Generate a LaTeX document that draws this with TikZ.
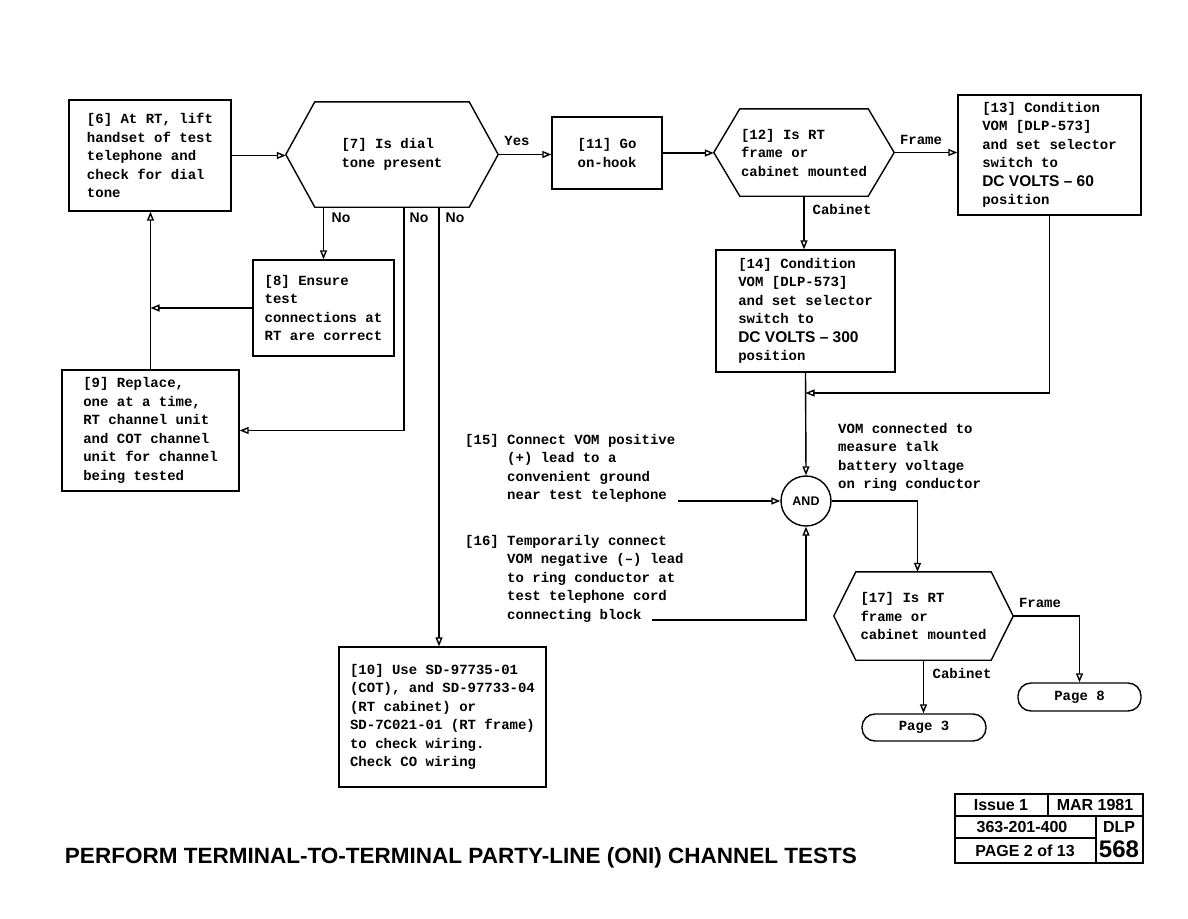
\documentclass[tikz,border=0pt]{standalone}
\usepackage{fontspec}
\usepackage{graphicx}
\usetikzlibrary{arrows.meta}
\newfontfamily\monof{Liberation Mono}
\newfontfamily\sansf{Liberation Sans}
\newcommand\mtxt{\monof\bfseries\fontsize{14}{18.5}\selectfont}
\newcommand\dcv[1]{{\sansf\bfseries\fontsize{15.5}{18.5}\selectfont #1}}
\begin{document}
\begin{tikzpicture}[x=1pt,y=-1pt,
  box/.style={draw, line width=1.4pt, align=left, font=\mtxt, inner sep=0pt},
  hexn/.style={align=left, font=\mtxt, inner sep=0pt},
  term/.style={draw, line width=1.4pt, rounded corners=13pt, font=\mtxt, inner sep=0pt},
  ln/.style={line width=1.4pt},
  arr/.style={line width=1.4pt, -{Triangle[open, length=9pt, width=7pt]}},
  lbl/.style={font=\mtxt, inner sep=0pt},
  nolbl/.style={font=\sansf\bfseries\fontsize{14}{16}\selectfont, inner sep=0pt},
  txt/.style={align=left, font=\mtxt, inner sep=0pt},
  tb/.style={font=\sansf\bfseries\fontsize{16}{18}\selectfont, inner sep=0pt}]
\useasboundingbox (0,0) rectangle (1188,918);

% boxes
\node[box, minimum width=162pt, minimum height=111pt] (b6) at (150,155.5)
  {[6] At RT, lift\\handset of test\\telephone and\\check for dial\\tone};
\node[box, minimum width=110pt, minimum height=72pt] (b11) at (607,153)
  {[11] Go\\on-hook};
\node[box, minimum width=183pt, minimum height=120pt] (b13) at (1049.5,155)
  {[13] Condition\\VOM [DLP-573]\\and set selector\\switch to\\\dcv{DC VOLTS – 60}\\position};
\node[box, minimum width=179pt, minimum height=122pt] (b14) at (805.5,311)
  {[14] Condition\\VOM [DLP-573]\\and set selector\\switch to\\\dcv{DC VOLTS – 300}\\position};
\node[box, minimum width=141pt, minimum height=96pt] (b8) at (323.5,308)
  {[8] Ensure\\test\\connections at\\RT are correct};
\node[box, minimum width=177pt, minimum height=121pt] (b9) at (150.5,430.5)
  {[9] Replace,\\one at a time,\\RT channel unit\\and COT channel\\unit for channel\\being tested};
\node[box, minimum width=207pt, minimum height=140pt] (b10) at (442.5,717)
  {[10] Use SD-97735-01\\(COT), and SD-97733-04\\(RT cabinet) or\\SD-7C021-01 (RT frame)\\to check wiring.\\Check CO wiring};

% decisions
\node[hexn, minimum width=212pt, minimum height=105pt] (d7) at (392,154.5) {[7] Is dial\\tone present};
\draw[ln] (d7.west) -- ([xshift=29pt]d7.north west) -- ([xshift=-29pt]d7.north east) -- (d7.east)
  -- ([xshift=-29pt]d7.south east) -- ([xshift=29pt]d7.south west) -- cycle;
\node[hexn, minimum width=180pt, minimum height=87pt] (d12) at (804,152.5) {[12] Is RT\\frame or\\cabinet mounted};
\draw[ln] (d12.west) -- ([xshift=26pt]d12.north west) -- ([xshift=-26pt]d12.north east) -- (d12.east)
  -- ([xshift=-26pt]d12.south east) -- ([xshift=26pt]d12.south west) -- cycle;
\node[hexn, minimum width=179pt, minimum height=88pt] (d17) at (923.5,616) {[17] Is RT\\frame or\\cabinet mounted};
\draw[ln] (d17.west) -- ([xshift=22pt]d17.north west) -- ([xshift=-22pt]d17.north east) -- (d17.east)
  -- ([xshift=-22pt]d17.south east) -- ([xshift=22pt]d17.south west) -- cycle;

% AND gate and terminals
\node[circle, draw, line width=1.4pt, minimum size=50pt, inner sep=0pt,
  font=\sansf\bfseries\fontsize{12.5}{14}\selectfont] (and) at (806,501) {AND};
\node[term, minimum width=124pt, minimum height=27pt] (p3) at (924,727.5) {Page 3};
\node[term, minimum width=123pt, minimum height=28pt] (p8) at (1079.5,697) {Page 8};

% free texts
\node[txt, anchor=north west] (t15) at (465,434)
  {[15] Connect VOM positive\\\hspace*{42pt}(+) lead to a\\\hspace*{42pt}convenient ground\\\hspace*{42pt}near test telephone};
\node[txt, anchor=north west] (t16) at (465,535)
  {[16] Temporarily connect\\\hspace*{42pt}VOM negative (–) lead\\\hspace*{42pt}to ring conductor at\\\hspace*{42pt}test telephone cord\\\hspace*{42pt}connecting block};
\node[txt, anchor=north west] (tv) at (838,423)
  {VOM connected to\\measure talk\\battery voltage\\on ring conductor};
\coordinate (c15) at (678,501);
\coordinate (c16) at (652,620);
\coordinate (j1) at (805.5,393);

% connectors
\draw[arr] (b6.east) -- (b6.east -| d7.west);
\draw[arr] (d7.east) -- (d7.east -| b11.west);
\draw[arr] (b11.east) -- (b11.east -| d12.west);
\draw[arr] (d12.east) -- (d12.east -| b13.west);
\draw[arr] (d12.south) -- (d12.south |- b14.north);
\draw[arr] (b13.south) |- (j1);
\draw[arr] (b14.south) -- (and.north);
\draw[arr] (c15) -- (and.west);
\draw[arr] (c16) -| (and.south);
\draw[arr] (and.east) -| ([xshift=-6pt]d17.north);
\draw[arr] (d17.east) -| (p8.north);
\draw[arr] (d17.south) -- (d17.south |- p3.north);
\draw[arr] (b8.north |- d7.south) -- (b8.north);
\draw[arr] ([xshift=12pt]d7.south) |- (b9.east);
\draw[arr] ([xshift=47pt]d7.south) -- ([xshift=47pt]d7.south |- b10.north);
\draw[arr] (b9.north) -- (b9.north |- b6.south);
\draw[arr] (b8.west) -- (b8.west -| b9.north);

% labels
\node[lbl] (lyes) at (517,141) {Yes};
\node[lbl] (lfr1) at (921,140) {Frame};
\node[lbl] (lcab1) at (842,209) {Cabinet};
\node[nolbl] (ln1) at (341,218) {No};
\node[nolbl] (ln2) at (419,218) {No};
\node[nolbl] (ln3) at (455,218) {No};
\node[lbl] (lfr2) at (1040,603) {Frame};
\node[lbl] (lcab2) at (962,673) {Cabinet};

% title block
\draw[line width=1.2pt] (955,794) rectangle (1143,863);
\draw[line width=1.2pt] (955,816) -- (1143,816) (1048,794) -- (1048,816)
  (955,838) -- (1096,838) (1096,816) -- (1096,863);
\node[tb] (ti1) at (1001,805) {Issue 1};
\node[tb] (ti2) at (1095,805) {MAR 1981};
\node[tb] (ti3) at (1022,827) {363-201-400};
\node[tb] (ti4) at (1119,826.5) {DLP};
\node[tb] (ti5) at (1025,850.5) {PAGE 2 of 13};
\node[font=\sansf\bfseries\fontsize{24}{26}\selectfont, inner sep=0pt] (ti6) at (1119,849.5) {568};

% title
\node[inner sep=0pt] (title) at (461,858)
  {\resizebox{792pt}{16pt}{\sansf\bfseries PERFORM TERMINAL-TO-TERMINAL PARTY-LINE (ONI) CHANNEL TESTS}};
\end{tikzpicture}
\end{document}
